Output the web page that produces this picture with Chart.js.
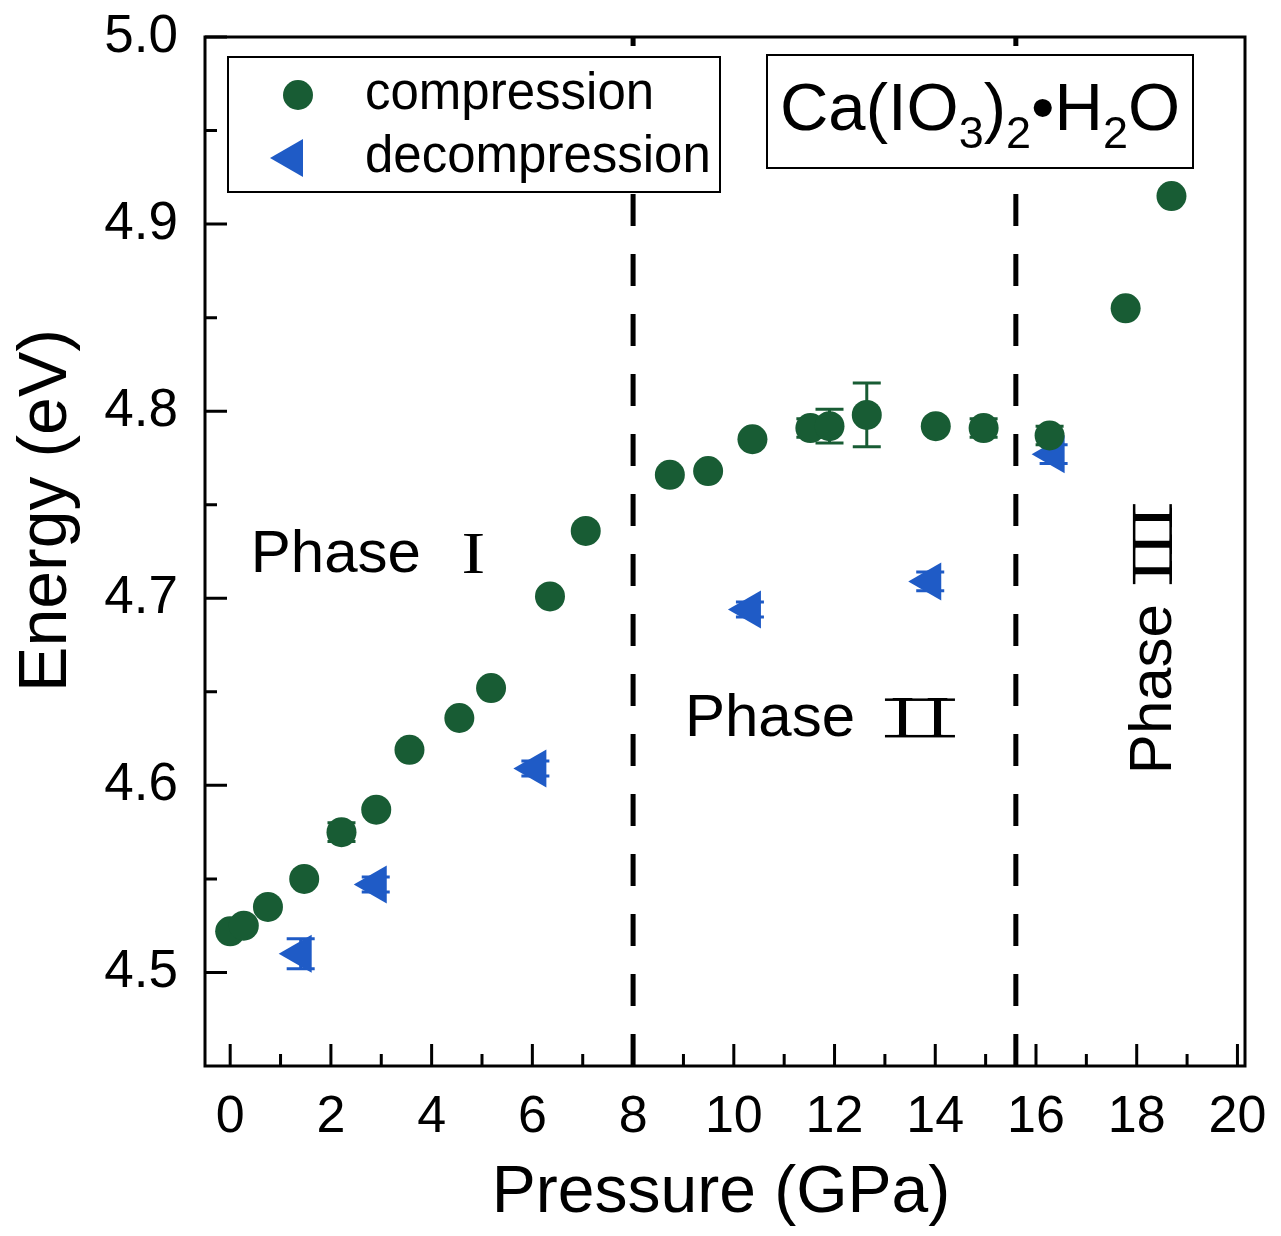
<!DOCTYPE html>
<html>
<head>
<meta charset="utf-8">
<script src="https://cdn.jsdelivr.net/npm/chart.js@4.4.1/dist/chart.umd.min.js"></script>
<style>
  html, body { margin: 0; padding: 0; background: #fff; }
</style>
</head>
<body>
<canvas id="energyChart" width="1281" height="1236"></canvas>
<script>
// compression run
const compPressure = [0.0, 0.27, 0.75, 1.47, 2.21, 2.90, 3.56, 4.55, 5.18, 6.35, 7.06, 8.73, 9.49, 10.37, 11.52, 11.90, 12.64, 14.01, 14.96, 16.27, 17.78, 18.69];
const compEnergy   = [4.522, 4.525, 4.535, 4.550, 4.575, 4.587, 4.619, 4.636, 4.652, 4.701, 4.736, 4.766, 4.768, 4.785, 4.791, 4.792, 4.798, 4.792, 4.791, 4.787, 4.855, 4.915];
const compError    = [0, 0, 0, 0, 0.005, 0, 0, 0, 0, 0, 0, 0, 0, 0, 0.005, 0.009, 0.017, 0, 0.005, 0.005, 0, 0];

// decompression run
const decPressure = [1.40, 2.89, 6.06, 10.32, 13.90, 16.35];
const decEnergy   = [4.510, 4.547, 4.609, 4.694, 4.709, 4.777];
const decError    = [0.008, 0.004, 0.004, 0.004, 0.005, 0.005];

const xTickLabels = ['0', '2', '4', '6', '8', '10', '12', '14', '16', '18', '20'];
const yTickLabels = ['4.5', '4.6', '4.7', '4.8', '4.9', '5.0'];
const xMinorTicks = [1, 3, 5, 7, 9, 11, 13, 15, 17, 19];
const yMinorTicks = [4.55, 4.65, 4.75, 4.85, 4.95];

const phaseBoundaries = [8, 15.6];
// numeral: roman numeral, gap: from start of "Phase" to numeral, width: numeral width
const phaseLabels = [
  { numeral: 'I',   x: 0.41,  y: 4.723, vertical: false, gap: 213, width: 19 },
  { numeral: 'II',  x: 9.03,  y: 4.635, vertical: false, gap: 200, width: 70 },
  { numeral: 'III', x: 18.35, y: 4.606, vertical: true,  gap: 190, width: 80 }
];

const green = '#185c34';
const blue = '#1f5bc6';
const SANS = "'Liberation Sans', Arial, sans-serif";
const SERIF = "'Liberation Serif', 'Times New Roman', serif";

const toPoints = (xs, ys) => xs.map((v, i) => ({ x: v, y: ys[i] }));

function drawMarker(ctx, style, cx, cy) {
  ctx.beginPath();
  if (style === 'circle') {
    ctx.fillStyle = green;
    ctx.arc(cx, cy, 15, 0, Math.PI * 2);
  } else {
    const r = 22;
    ctx.fillStyle = blue;
    for (let k = 0; k < 3; k++) {
      const rad = (-90 + k * 120) * Math.PI / 180;
      const px = cx + Math.sin(rad) * r, py = cy - Math.cos(rad) * r;
      k === 0 ? ctx.moveTo(px, py) : ctx.lineTo(px, py);
    }
    ctx.closePath();
  }
  ctx.fill();
}

const decorPlugin = {
  id: 'decor',
  beforeDatasetsDraw(chart) {
    const { ctx, chartArea: a, scales: { x, y } } = chart;
    ctx.save();
    // phase boundary lines
    ctx.strokeStyle = '#000';
    ctx.lineWidth = 5;
    ctx.setLineDash([32, 28]);
    phaseBoundaries.forEach(p => {
      const px = x.getPixelForValue(p);
      ctx.beginPath();
      ctx.moveTo(px, a.bottom);
      ctx.lineTo(px, a.top);
      ctx.stroke();
    });
    ctx.setLineDash([]);
    // error bars
    const sets = [[compPressure, compEnergy, compError, green], [decPressure, decEnergy, decError, blue]];
    sets.forEach(([xs, ys, es, col]) => {
      ctx.strokeStyle = col;
      ctx.lineWidth = 3;
      xs.forEach((xv, i) => {
        if (!es[i]) return;
        const px = x.getPixelForValue(xv);
        const top = y.getPixelForValue(ys[i] + es[i]);
        const bot = y.getPixelForValue(ys[i] - es[i]);
        ctx.beginPath();
        ctx.moveTo(px, top); ctx.lineTo(px, bot);
        ctx.moveTo(px - 14, top); ctx.lineTo(px + 14, top);
        ctx.moveTo(px - 14, bot); ctx.lineTo(px + 14, bot);
        ctx.stroke();
      });
    });
    ctx.restore();
  },
  afterDatasetsDraw(chart) {
    const { ctx, chartArea: a, scales: { x, y } } = chart;
    ctx.save();

    // frame
    ctx.strokeStyle = '#000';
    ctx.lineWidth = 3;
    ctx.strokeRect(a.left, a.top, a.right - a.left, a.bottom - a.top);

    // inward ticks on bottom and left
    ctx.beginPath();
    xTickLabels.forEach(t => {
      const px = x.getPixelForValue(Number(t));
      ctx.moveTo(px, a.bottom); ctx.lineTo(px, a.bottom - 22);
    });
    xMinorTicks.forEach(t => {
      const px = x.getPixelForValue(t);
      ctx.moveTo(px, a.bottom); ctx.lineTo(px, a.bottom - 12);
    });
    yTickLabels.forEach(t => {
      const py = y.getPixelForValue(Number(t));
      ctx.moveTo(a.left, py); ctx.lineTo(a.left + 22, py);
    });
    yMinorTicks.forEach(t => {
      const py = y.getPixelForValue(t);
      ctx.moveTo(a.left, py); ctx.lineTo(a.left + 12, py);
    });
    ctx.stroke();

    // axis titles
    ctx.fillStyle = '#000';
    ctx.textAlign = 'center';
    ctx.textBaseline = 'alphabetic';
    ctx.font = '66px ' + SANS;
    ctx.fillText('Pressure (GPa)', (a.left + a.right) / 2 - 4, 1212);
    ctx.save();
    ctx.translate(66, (a.top + a.bottom) / 2 - 41);
    ctx.rotate(-Math.PI / 2);
    ctx.font = '68px ' + SANS;
    ctx.fillText('Energy (eV)', 0, 0);
    ctx.restore();

    // phase labels: "Phase" + serif roman numeral with joined serifs
    ctx.textAlign = 'left';
    phaseLabels.forEach(l => {
      const px = x.getPixelForValue(l.x);
      const py = y.getPixelForValue(l.y);
      ctx.save();
      ctx.translate(px, py);
      if (l.vertical) ctx.rotate(-Math.PI / 2);
      ctx.textBaseline = 'middle';
      ctx.font = '60px ' + SANS;
      ctx.fillText('Phase', 0, 0);
      const baseY = ctx.measureText('Phase').actualBoundingBoxDescent;
      ctx.textBaseline = 'alphabetic';
      ctx.font = '60px ' + SERIF;
      const chars = l.numeral.split('');
      const m = ctx.measureText('I');
      const ink = m.actualBoundingBoxLeft + m.actualBoundingBoxRight;
      const capH = m.actualBoundingBoxAscent;
      const cell = l.width / chars.length;
      const sx = Math.min(1.25, cell / ink);
      chars.forEach((c, k) => {
        ctx.save();
        ctx.translate(l.gap + k * cell + (cell - ink * sx) / 2, baseY);
        ctx.scale(sx, 1);
        ctx.fillText(c, m.actualBoundingBoxLeft, 0);
        ctx.restore();
      });
      if (chars.length > 1) {
        ctx.fillRect(l.gap, baseY - capH, l.width, 2.5);
        ctx.fillRect(l.gap, baseY - 2.5, l.width, 2.5);
      }
      ctx.restore();
    });

    // legend box
    const lx = a.left + 23, ly = a.top + 20, lw = 492, lh = 135;
    ctx.fillStyle = '#fff';
    ctx.fillRect(lx, ly, lw, lh);
    ctx.strokeStyle = '#000';
    ctx.lineWidth = 2;
    ctx.strokeRect(lx, ly, lw, lh);
    drawMarker(ctx, 'circle', lx + 70, ly + 38);
    drawMarker(ctx, 'triangle', lx + 64, ly + 101);
    ctx.fillStyle = '#000';
    ctx.font = '51px ' + SANS;
    ctx.textBaseline = 'middle';
    ctx.fillText('compression', lx + 137, ly + 38);
    ctx.fillText('decompression', lx + 137, ly + 101);

    // formula box
    const fx = a.left + 562, fy = a.top + 18, fw = 426, fh = 113;
    ctx.fillStyle = '#fff';
    ctx.fillRect(fx, fy, fw, fh);
    ctx.strokeRect(fx, fy, fw, fh);
    const parts = [
      ['Ca(IO', 67, 0], ['3', 45, 18], [')', 67, 0], ['2', 45, 18],
      ['\u2022', 67, 0], ['H', 67, 0], ['2', 45, 18], ['O', 67, 0]
    ];
    let total = 0;
    parts.forEach(p => { ctx.font = p[1] + 'px ' + SANS; total += ctx.measureText(p[0]).width; });
    let cx = fx + (fw - total) / 2;
    const base = 130;
    ctx.fillStyle = '#000';
    ctx.textBaseline = 'alphabetic';
    parts.forEach(p => {
      ctx.font = p[1] + 'px ' + SANS;
      ctx.fillText(p[0], cx, base + p[2]);
      cx += ctx.measureText(p[0]).width;
    });

    ctx.restore();
  }
};

const ctx = document.getElementById('energyChart').getContext('2d');

const data = {
  datasets: [{
    label: 'compression',
    data: toPoints(compPressure, compEnergy),
    pointStyle: 'circle',
    pointRadius: 15,
    pointHoverRadius: 15,
    backgroundColor: green,
    borderColor: green,
    borderWidth: 0,
    showLine: false
  }, {
    label: 'decompression',
    data: toPoints(decPressure, decEnergy),
    pointStyle: 'triangle',
    rotation: -90,
    pointRadius: 22,
    pointHoverRadius: 22,
    backgroundColor: blue,
    borderColor: blue,
    borderWidth: 0,
    showLine: false
  }]
};

const config = {
  type: 'scatter',
  data: data,
  options: {
    responsive: false,
    animation: false,
    devicePixelRatio: 1,
    layout: { padding: { left: 0, top: 37, right: 36, bottom: 0 } },
    plugins: {
      legend: { display: false },
      tooltip: { enabled: false }
    },
    scales: {
      x: {
        type: 'linear',
        min: -0.5,
        max: 20.15,
        afterBuildTicks: s => { s.ticks = xTickLabels.map(t => ({ value: Number(t) })); },
        afterFit: s => { s.height = 170; s.paddingLeft = 0; s.paddingRight = 0; },
        grid: { display: false, drawTicks: false },
        border: { display: false },
        ticks: {
          color: '#000',
          padding: 20,
          maxRotation: 0,
          autoSkip: false,
          font: { family: SANS, size: 52 },
          callback: (v, i) => xTickLabels[i]
        }
      },
      y: {
        type: 'linear',
        min: 4.45,
        max: 5.0,
        afterBuildTicks: s => { s.ticks = yTickLabels.map(t => ({ value: Number(t) })); },
        afterFit: s => { s.width = 205; s.paddingTop = 0; s.paddingBottom = 0; },
        grid: { display: false, drawTicks: false },
        border: { display: false },
        ticks: {
          color: '#000',
          padding: 27,
          autoSkip: false,
          font: { family: SANS, size: 53 },
          callback: (v, i) => yTickLabels[i]
        }
      }
    }
  },
  plugins: [decorPlugin]
};

const energyChart = new Chart(ctx, config);
</script>
</body>
</html>
